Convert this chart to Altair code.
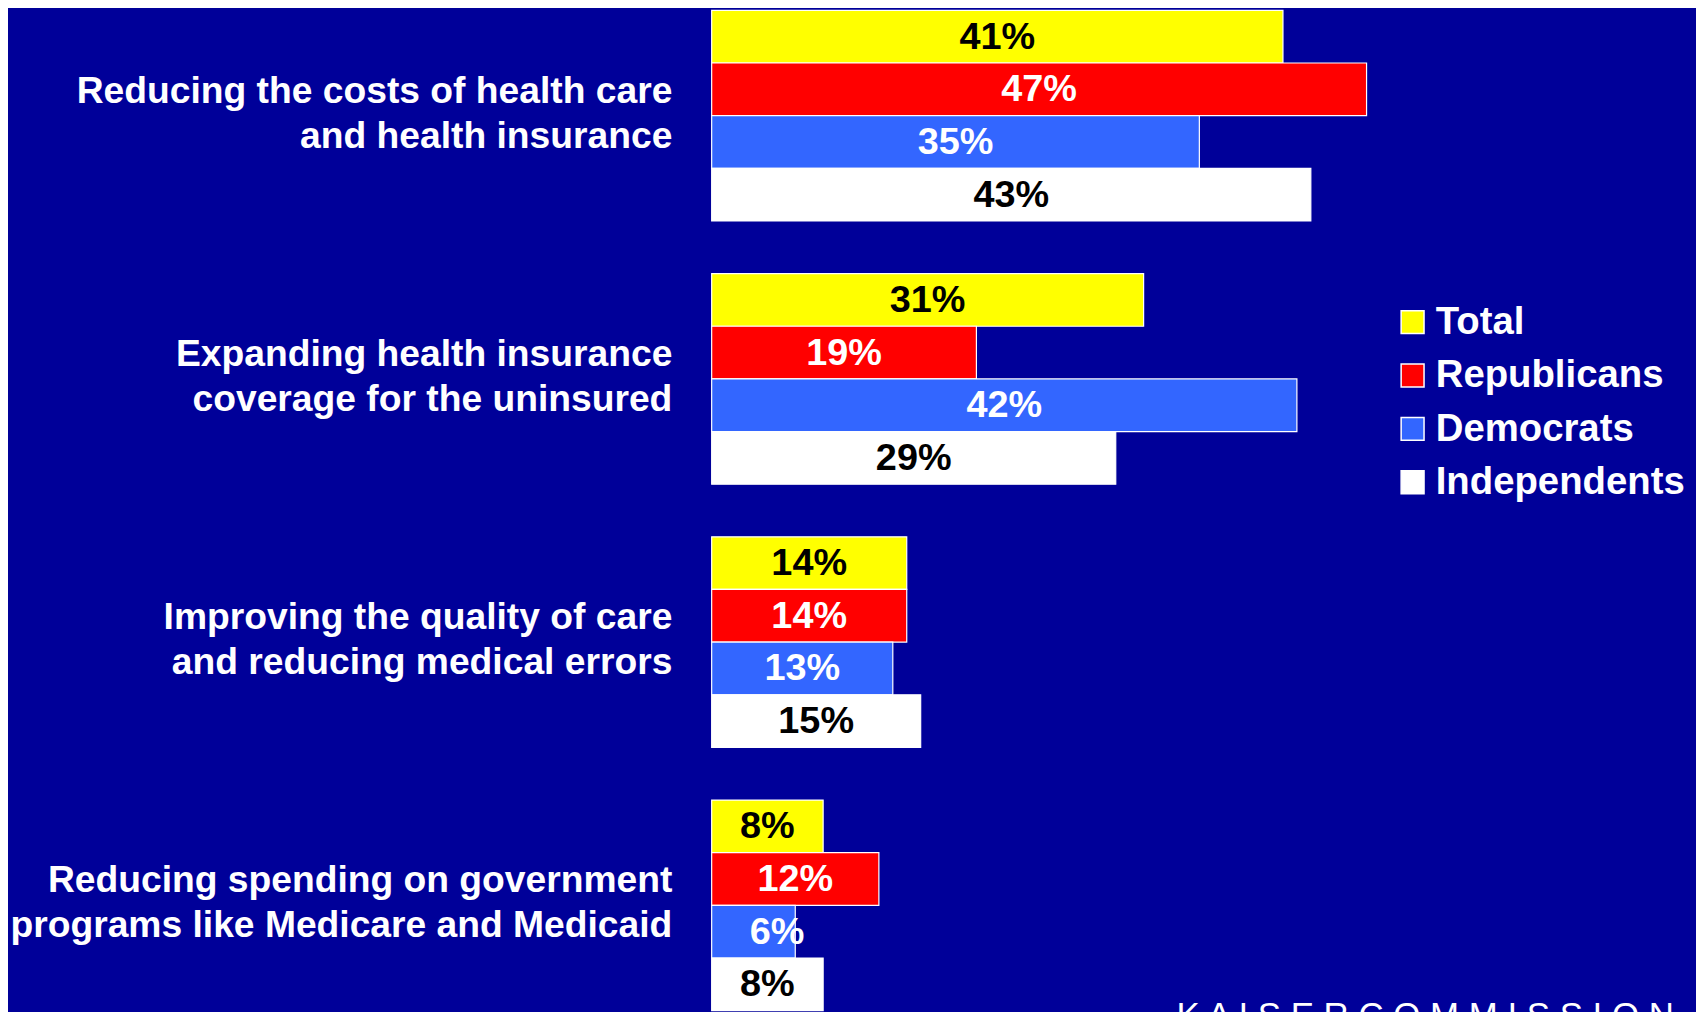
import altair as alt
import pandas as pd

categories = [
    "Reducing the costs of health care|and health insurance",
    "Expanding health insurance|coverage for the uninsured",
    "Improving the quality of care|and reducing medical errors",
    "Reducing spending on government|programs like Medicare and Medicaid",
]
series = ["Total", "Republicans", "Democrats", "Independents"]
total = [41, 31, 14, 8]
republicans = [47, 19, 14, 12]
democrats = [35, 42, 13, 6]
independents = [43, 29, 15, 8]
bar_colors = ["#FFFF00", "#FF0000", "#3366FF", "#FFFFFF"]
text_colors = ["#000000", "#FFFFFF", "#FFFFFF", "#000000"]
footer = ["K A I S E R   C O M M I S S I O N"]

rows = []
for s, vals, tc in zip(series, [total, republicans, democrats, independents], text_colors):
    for c, v in zip(categories, vals):
        rows.append({"category": c, "series": s, "value": v, "tc": tc})
df = pd.DataFrame(rows)

FONT = "Liberation Sans"
BG = "#000099"

xscale = alt.Scale(domain=[0, 70], nice=False, zero=True)
y = alt.Y(
    "category:N",
    sort=categories,
    scale=alt.Scale(paddingInner=0.2, paddingOuter=0),
    axis=alt.Axis(
        title=None,
        labelExpr="split(datum.label, '|')",
        labelFont=FONT,
        labelFontSize=37.4,
        labelFontWeight="bold",
        labelColor="white",
        labelLineHeight=45,
        labelPadding=40,
        labelAlign="right",
        labelOffset=-24,
        ticks=False,
        domain=False,
        grid=False,
        labelLimit=900,
    ),
)
yoff = alt.YOffset("series:N", sort=series, scale=alt.Scale(paddingInner=0, paddingOuter=0))

bars = alt.Chart(df).mark_bar(stroke="white", strokeWidth=1.2).encode(
    x=alt.X("value:Q", scale=xscale, axis=None),
    y=y,
    yOffset=yoff,
    color=alt.Color(
        "series:N",
        sort=series,
        scale=alt.Scale(domain=series, range=bar_colors),
        legend=alt.Legend(
            title=None,
            orient="none",
            legendX=685,
            legendY=294,
            symbolType="square",
            symbolSize=529,
            symbolStrokeColor="white",
            symbolStrokeWidth=1.5,
            symbolOpacity=1,
            labelFont=FONT,
            labelFontSize=38.5,
            labelFontWeight="bold",
            labelColor="white",
            labelOffset=4,
            rowPadding=14.6,
            padding=0,
            labelLimit=500,
        ),
    ),
)

labels = alt.Chart(df).transform_calculate(
    lx="datum.value < 7 ? 4.7 : datum.value / 2",
    lbl="datum.value + '%'",
).mark_text(font=FONT, fontSize=38, fontWeight="bold", baseline="middle", align="center", dy=1).encode(
    x=alt.X("lx:Q", scale=xscale, axis=None),
    y=y,
    yOffset=yoff,
    text="lbl:N",
    fill=alt.Fill("tc:N", scale=None),
)

foot = alt.Chart(pd.DataFrame({"t": footer})).mark_text(
    font=FONT, fontSize=35, color="white", align="left", baseline="alphabetic"
).encode(x=alt.value(467), y=alt.value(1021), text="t:N")

chart = alt.layer(bars, labels, foot).properties(
    width=980,
    height=1005,
    padding={"left": 707, "top": 0, "right": 9, "bottom": 0},
    autosize=alt.AutoSizeParams(type="none"),
).configure(background=BG).configure_view(stroke=None)

chart.save("out.html", embed_options={"renderer": "svg", "actions": False})
